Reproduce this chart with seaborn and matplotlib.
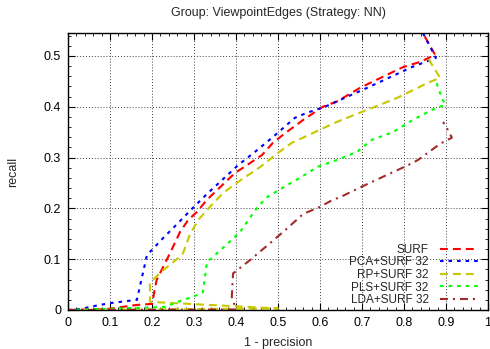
import matplotlib
matplotlib.use("Agg")
import matplotlib.pyplot as plt
from matplotlib.ticker import MultipleLocator, FixedLocator
import numpy as np
import pandas as pd
import seaborn as sns

# Recall vs. (1 - precision) for each descriptor variant
surf_x = [0.0, 0.093, 0.164, 0.200, 0.211, 0.243, 0.267, 0.286, 0.307, 0.331, 0.350, 0.398,
          0.417, 0.462, 0.488, 0.517, 0.560, 0.607, 0.640, 0.695, 0.750, 0.798, 0.838, 0.874, 0.840]
surf_y = [0.0, 0.002, 0.010, 0.012, 0.059, 0.112, 0.154, 0.177, 0.193, 0.217, 0.232, 0.270,
          0.280, 0.305, 0.329, 0.348, 0.374, 0.400, 0.410, 0.437, 0.459, 0.478, 0.488, 0.502, 0.552]

pca_x = [0.0, 0.029, 0.076, 0.105, 0.164, 0.188, 0.227, 0.262, 0.295, 0.333, 0.362, 0.405,
         0.445, 0.486, 0.540, 0.569, 0.612, 0.712, 0.819, 0.876, 0.845]
pca_y = [0.0, 0.002, 0.010, 0.014, 0.020, 0.108, 0.142, 0.171, 0.199, 0.230, 0.252, 0.285,
         0.311, 0.339, 0.378, 0.388, 0.400, 0.437, 0.478, 0.496, 0.545]

rp_x = [0.0, 0.500, 0.195, 0.195, 0.219, 0.262, 0.274, 0.290, 0.310, 0.338, 0.369, 0.405,
        0.457, 0.500, 0.533, 0.588, 0.640, 0.664, 0.783, 0.857, 0.886, 0.855]
rp_y = [0.0, 0.003, 0.016, 0.053, 0.073, 0.102, 0.112, 0.148, 0.177, 0.203, 0.230, 0.252,
        0.281, 0.309, 0.329, 0.350, 0.370, 0.378, 0.417, 0.447, 0.457, 0.498]

pls_x = [0.0, 0.231, 0.274, 0.298, 0.321, 0.331, 0.390, 0.410, 0.438, 0.452, 0.474, 0.510,
         0.552, 0.595, 0.640, 0.688, 0.724, 0.774, 0.821, 0.867, 0.898, 0.890, 0.874]
pls_y = [0.0, 0.006, 0.020, 0.026, 0.035, 0.094, 0.138, 0.154, 0.187, 0.203, 0.222, 0.240,
         0.260, 0.282, 0.295, 0.311, 0.335, 0.350, 0.374, 0.394, 0.404, 0.417, 0.455]

lda_x = [0.0, 0.400, 0.390, 0.393, 0.433, 0.476, 0.517, 0.560, 0.600, 0.631, 0.648, 0.703,
         0.760, 0.810, 0.833, 0.886, 0.914, 0.902, 0.893]
lda_y = [0.0, 0.001, 0.026, 0.072, 0.098, 0.128, 0.157, 0.189, 0.203, 0.217, 0.222, 0.244,
         0.266, 0.285, 0.295, 0.327, 0.339, 0.358, 0.370]

series_names = ["SURF", "PCA+SURF 32", "RP+SURF 32", "PLS+SURF 32", "LDA+SURF 32"]
series_x = [surf_x, pca_x, rp_x, pls_x, lda_x]
series_y = [surf_y, pca_y, rp_y, pls_y, lda_y]

colors = {"SURF": "#ff0000", "PCA+SURF 32": "#0000ff", "RP+SURF 32": "#c8c800",
          "PLS+SURF 32": "#00ff00", "LDA+SURF 32": "#a52a2a"}
dashes = {"SURF": (3.8, 2.4), "PCA+SURF 32": (1.7, 2.4), "RP+SURF 32": (3.8, 2.4),
          "PLS+SURF 32": (1.7, 2.4), "LDA+SURF 32": (3.8, 2.4, 1.0, 2.4)}

frames = []
for name, xs, ys in zip(series_names, series_x, series_y):
    frames.append(pd.DataFrame({"method": name, "fp": xs, "recall": ys,
                                "step": np.arange(len(xs))}))
df = pd.concat(frames, ignore_index=True)

sns.set_style("white")
plt.rcParams["font.family"] = ["Liberation Sans", "DejaVu Sans"]
plt.rcParams["font.size"] = 9

fig = plt.figure(figsize=(4.9, 3.49), dpi=100)
ax = fig.add_axes([68 / 490, 1 - 310 / 349, 420 / 490, 277 / 349])

sns.lineplot(data=df, x="fp", y="recall", hue="method", style="method",
             hue_order=series_names, style_order=series_names,
             palette=colors, dashes=dashes, sort=False, estimator=None,
             units="method", linewidth=1.5, ax=ax, legend=True)

ax.set_xlim(0, 1)
ax.set_ylim(0, 0.545)
ax.xaxis.set_major_locator(FixedLocator(np.round(np.arange(0, 1.01, 0.1), 1)))
ax.set_xticklabels(["0", "0.1", "0.2", "0.3", "0.4", "0.5", "0.6", "0.7", "0.8", "0.9", "1"])
ax.yaxis.set_major_locator(FixedLocator(np.round(np.arange(0, 0.51, 0.1), 1)))
ax.set_yticklabels(["0", "0.1", "0.2", "0.3", "0.4", "0.5"])
ax.xaxis.set_minor_locator(MultipleLocator(0.02))
ax.yaxis.set_minor_locator(MultipleLocator(0.02))
ax.tick_params(which="both", direction="in", top=True, right=True, bottom=True, left=True,
               colors="black", labelsize=9, pad=5)
ax.tick_params(which="major", length=5, width=0.8)
ax.tick_params(which="minor", length=2.5, width=0.6)
ax.grid(True, which="major", color="0.25", linestyle=(0, (1, 2)), linewidth=0.7)
for sp in ax.spines.values():
    sp.set_color("black")
    sp.set_linewidth(1.0)

ax.set_xlabel("1 - precision", fontsize=9, labelpad=6)
ax.set_ylabel("recall", fontsize=9, labelpad=18)
ax.set_title("Group: ViewpointEdges (Strategy: NN)", fontsize=9, pad=12)

handles, labels = ax.get_legend_handles_labels()
leg = ax.legend(handles, labels, loc="lower right", frameon=False, markerfirst=False,
                fontsize=8.5, handlelength=3.2, handletextpad=1.0, labelspacing=0.05,
                borderaxespad=0.25, bbox_to_anchor=(0.995, -0.014))

fig.savefig("out.png", dpi=100)
